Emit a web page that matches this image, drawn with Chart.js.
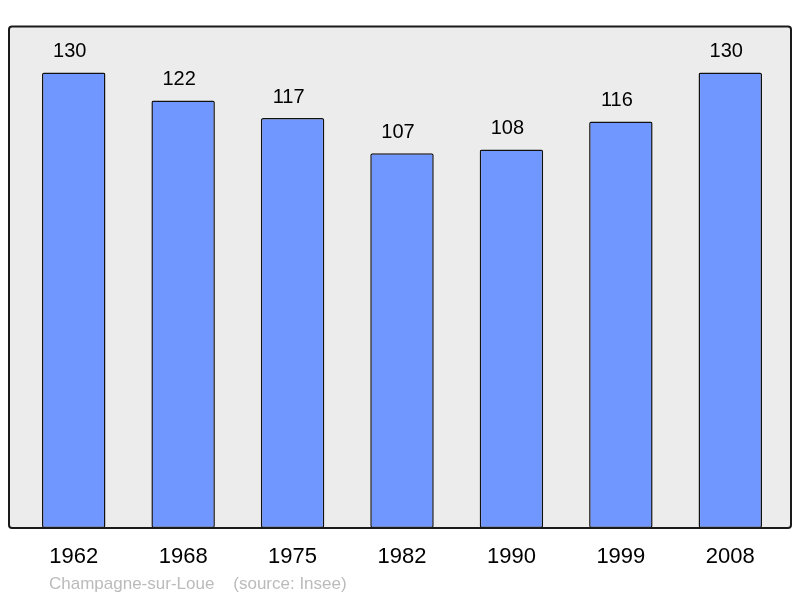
<!DOCTYPE html>
<html>
<head>
<meta charset="utf-8">
<script src="https://cdn.jsdelivr.net/npm/chart.js@4"></script>
<style>
    html, body { margin: 0; padding: 0; background: #ffffff; }
    #wrap { width: 800px; height: 598px; }
</style>
</head>
<body>
<div id="wrap"><canvas id="popChart" width="800" height="598"></canvas></div>
<script>
// Données de population
const annees = ['1962', '1968', '1975', '1982', '1990', '1999', '2008'];
const population = [130, 122, 117, 107, 108, 116, 130];
const legende = 'Champagne-sur-Loue    (source: Insee)';

// Cadre gris derrière le graphique
function traceCadre(ctx, a) {
    const x0 = a.left - 10, x1 = a.right + 6, y0 = a.top - 0.5, y1 = a.bottom;
    ctx.beginPath();
    ctx.roundRect(x0, y0, x1 - x0, y1 - y0, 3);
}

const cadrePlugin = {
    id: 'cadre',
    beforeDraw(chart) {
        const ctx = chart.ctx;
        ctx.save();
        traceCadre(ctx, chart.chartArea);
        ctx.fillStyle = '#ececec';
        ctx.fill();
        ctx.restore();
    },
    afterDatasetsDraw(chart) {
        const ctx = chart.ctx;
        ctx.save();
        traceCadre(ctx, chart.chartArea);
        ctx.lineWidth = 2;
        ctx.strokeStyle = '#1a1a1a';
        ctx.stroke();

        // Valeurs au-dessus des barres
        ctx.font = '20px "Liberation Sans", Arial, sans-serif';
        ctx.fillStyle = '#000000';
        ctx.textAlign = 'center';
        ctx.textBaseline = 'middle';
        chart.getDatasetMeta(0).data.forEach((bar, i) => {
            ctx.fillText(String(population[i]), bar.x - 4, bar.y - 21);
        });

        // Source en bas
        ctx.font = '17px "Liberation Sans", Arial, sans-serif';
        ctx.fillStyle = '#bbbbbb';
        ctx.textAlign = 'left';
        ctx.fillText(legende, 49, 584);
        ctx.restore();
    }
};

new Chart(document.getElementById('popChart'), {
    type: 'bar',
    data: {
        labels: annees,
        datasets: [{
            data: population,
            backgroundColor: '#7096ff',
            borderColor: '#111111',
            borderWidth: 1.5,
            borderRadius: 2,
            borderSkipped: false,
            categoryPercentage: 1,
            barPercentage: 0.58
        }]
    },
    options: {
        responsive: false,
        animation: false,
        events: [],
        layout: { padding: { left: 19, right: 15, top: 27, bottom: 0 } },
        scales: {
            y: { display: false, min: 0, max: 143 },
            x: {
                grid: { display: false, drawTicks: false },
                border: { display: false },
                ticks: {
                    color: '#000000',
                    padding: 16,
                    font: { family: '"Liberation Sans", Arial, sans-serif', size: 22 }
                },
                afterFit(scale) { scale.height = 70; }
            }
        },
        plugins: {
            legend: { display: false },
            tooltip: { enabled: false }
        }
    },
    plugins: [cadrePlugin]
});
</script>
</body>
</html>
